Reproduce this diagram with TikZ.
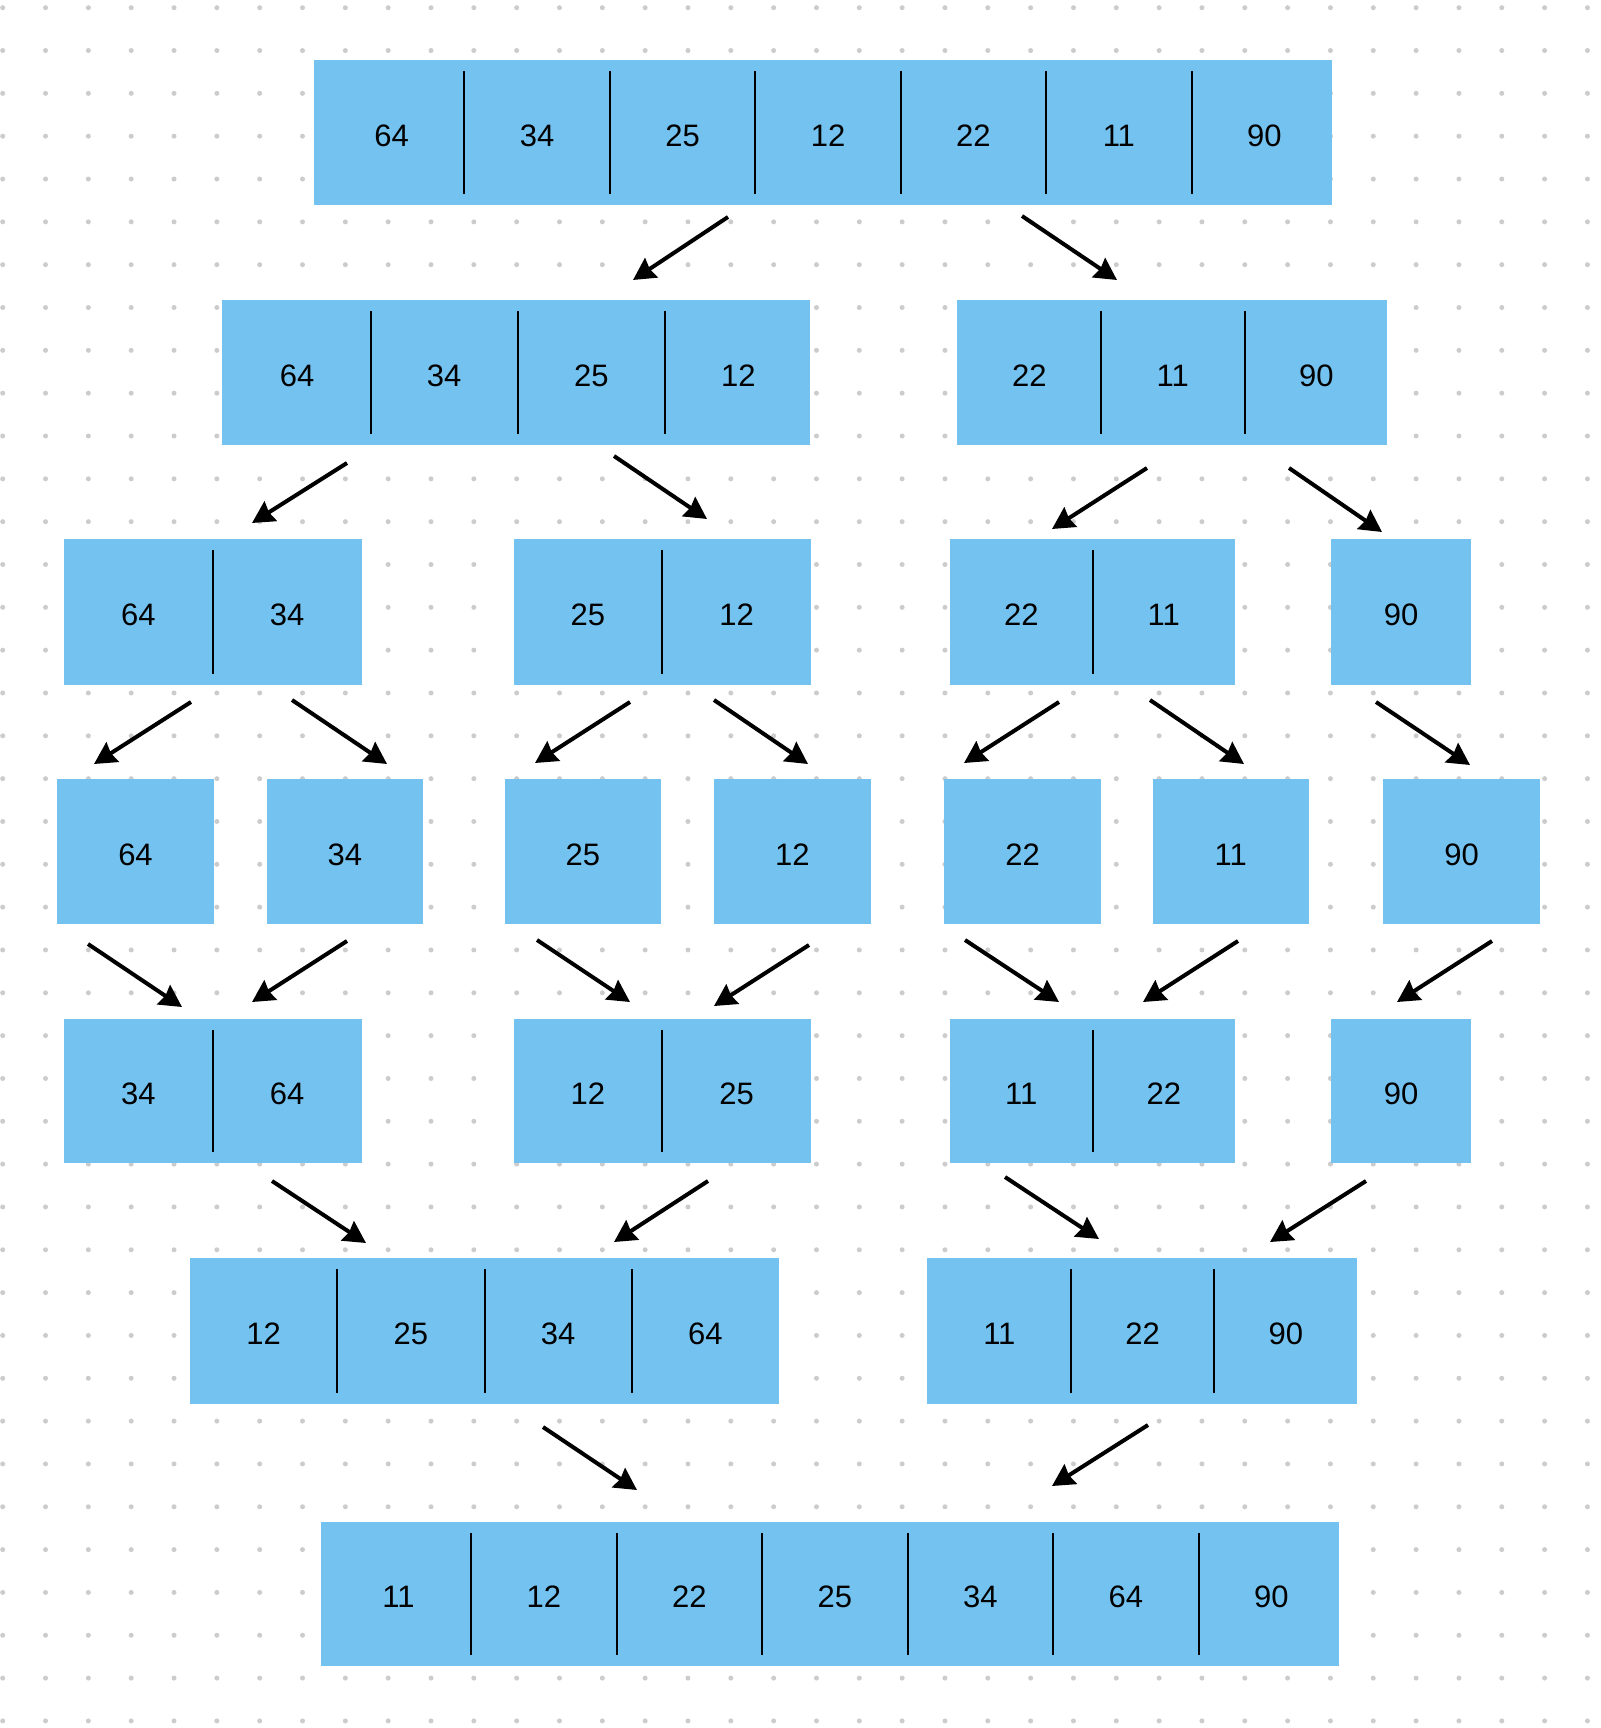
\documentclass[tikz,border=0pt]{standalone}
\usepackage{fontspec}
\setmainfont{Liberation Sans}
\usetikzlibrary{arrows.meta,calc}
\definecolor{boxblue}{RGB}{116,194,239}
\definecolor{dotgray}{RGB}{204,204,204}
\tikzset{
  cellbox/.style={fill=boxblue, draw=none, inner sep=0pt, outer sep=0pt, rectangle},
  celltext/.style={inner sep=0pt, font=\fontsize{15.5}{18}\selectfont, text=black},
  divider/.style={line width=1pt, black},
  mergearrow/.style={line width=2pt, black, -{Stealth[length=11pt,width=11.5pt,inset=1pt]}},
}
\newcommand\arrbox[8][0]{% [shift], name, left, top, right, bottom, cells, values
  \pgfmathsetmacro\bw{(#5-#3)*0.5}
  \pgfmathsetmacro\bh{(#6-#4)*0.5}
  \pgfmathsetmacro\cw{(#5-#3)/#7}
  \node[cellbox, minimum width=\bw pt, minimum height=\bh pt] (#2) at ({(#3+#5)/2},{(#4+#6)/2}) {};
  \foreach \v [count=\i] in {#8} {
    \node[celltext] (#2-\i) at ({#3+#1+(\i-0.5)*\cw},{(#4+#6)/2+3}) {\v};
    \ifnum\i<#7
      \draw[divider] ({#3+#1+\i*\cw},{#4+11}) -- ({#3+#1+\i*\cw},{#6-11});
    \fi
  }
}
\begin{document}
\begin{tikzpicture}[x=0.5pt,y=-0.5pt]
\fill[white] (0,0) rectangle (1600,1728);
\useasboundingbox (0,0) rectangle (1600,1728);
% dot grid
\foreach \i in {0,...,37} {
  \foreach \j in {0,...,40} {
    \fill[dotgray] ({2.7+42.83*\i},{7.7+42.83*\j}) circle[radius=2.5];
  }
}
% row 1
\arrbox[5]{r1}{314}{60}{1332}{205.5}{7}{64,34,25,12,22,11,90}
% row 2
\arrbox[2]{r2a}{221.5}{300}{810}{445}{4}{64,34,25,12}
\arrbox[1]{r2b}{956.5}{300}{1387}{445}{3}{22,11,90}
% row 3
\arrbox{r3a}{64}{539}{361.5}{684.5}{2}{64,34}
\arrbox{r3b}{513.5}{539}{811}{684.5}{2}{25,12}
\arrbox{r3c}{950}{539}{1235}{684.5}{2}{22,11}
\arrbox{r3d}{1331}{539}{1471}{684.5}{1}{90}
% row 4
\arrbox{r4a}{57}{779}{214}{924}{1}{64}
\arrbox{r4b}{266.5}{779}{423}{924}{1}{34}
\arrbox{r4c}{504.7}{779}{661}{924}{1}{25}
\arrbox{r4d}{714}{779}{870.5}{924}{1}{12}
\arrbox{r4e}{944}{779}{1101}{924}{1}{22}
\arrbox{r4f}{1152.6}{779}{1309}{924}{1}{11}
\arrbox{r4g}{1383}{779}{1540}{924}{1}{90}
% row 5
\arrbox{r5a}{64}{1019}{361.5}{1163}{2}{34,64}
\arrbox{r5b}{513.5}{1019}{811}{1163}{2}{12,25}
\arrbox{r5c}{950}{1019}{1235}{1163}{2}{11,22}
\arrbox{r5d}{1331}{1019}{1471}{1163}{1}{90}
% row 6
\arrbox{r6a}{190}{1258}{779}{1403.5}{4}{12,25,34,64}
\arrbox[1]{r6b}{926.7}{1258}{1356.5}{1403.5}{3}{11,22,90}
% row 7
\arrbox[5]{r7}{320.7}{1522}{1339}{1666}{7}{11,12,22,25,34,64,90}
% arrow end points
\coordinate (a1s) at (728,217);    \coordinate (a1e) at (633,280);
\coordinate (a2s) at (1022,216);   \coordinate (a2e) at (1117,280);
\coordinate (b1s) at (347,463);    \coordinate (b1e) at (252,523);
\coordinate (b2s) at (614,456);    \coordinate (b2e) at (707,519);
\coordinate (b3s) at (1147,468);   \coordinate (b3e) at (1052,529);
\coordinate (b4s) at (1289,468);   \coordinate (b4e) at (1382,532);
\coordinate (c1s) at (191,702);    \coordinate (c1e) at (94,764);
\coordinate (c2s) at (292,700);    \coordinate (c2e) at (387,764);
\coordinate (c3s) at (630,702);    \coordinate (c3e) at (535,763);
\coordinate (c4s) at (714,700);    \coordinate (c4e) at (808,764);
\coordinate (c5s) at (1059,702);   \coordinate (c5e) at (964,763);
\coordinate (c6s) at (1150,700);   \coordinate (c6e) at (1244,764);
\coordinate (c7s) at (1376,702);   \coordinate (c7e) at (1470,765);
\coordinate (d1s) at (88,944);     \coordinate (d1e) at (182,1007);
\coordinate (d2s) at (347,941);    \coordinate (d2e) at (252,1002);
\coordinate (d3s) at (537,940);    \coordinate (d3e) at (630,1002);
\coordinate (d4s) at (809,945);    \coordinate (d4e) at (714,1006);
\coordinate (d5s) at (965,940);    \coordinate (d5e) at (1059,1002);
\coordinate (d6s) at (1238,941);   \coordinate (d6e) at (1143,1002);
\coordinate (d7s) at (1492,941);   \coordinate (d7e) at (1397,1002);
\coordinate (e1s) at (272,1181);   \coordinate (e1e) at (366,1243);
\coordinate (e2s) at (708,1181);   \coordinate (e2e) at (614,1242);
\coordinate (e3s) at (1005,1177);  \coordinate (e3e) at (1099,1239);
\coordinate (e4s) at (1366,1181);  \coordinate (e4e) at (1270,1242);
\coordinate (f1s) at (543,1427);   \coordinate (f1e) at (637,1490);
\coordinate (f2s) at (1148,1425);  \coordinate (f2e) at (1052,1486);
\foreach \p in {a1,a2,b1,b2,b3,b4,c1,c2,c3,c4,c5,c6,c7,d1,d2,d3,d4,d5,d6,d7,e1,e2,e3,e4,f1,f2}
  \draw[mergearrow] (\p s) -- (\p e);
\end{tikzpicture}
\end{document}
